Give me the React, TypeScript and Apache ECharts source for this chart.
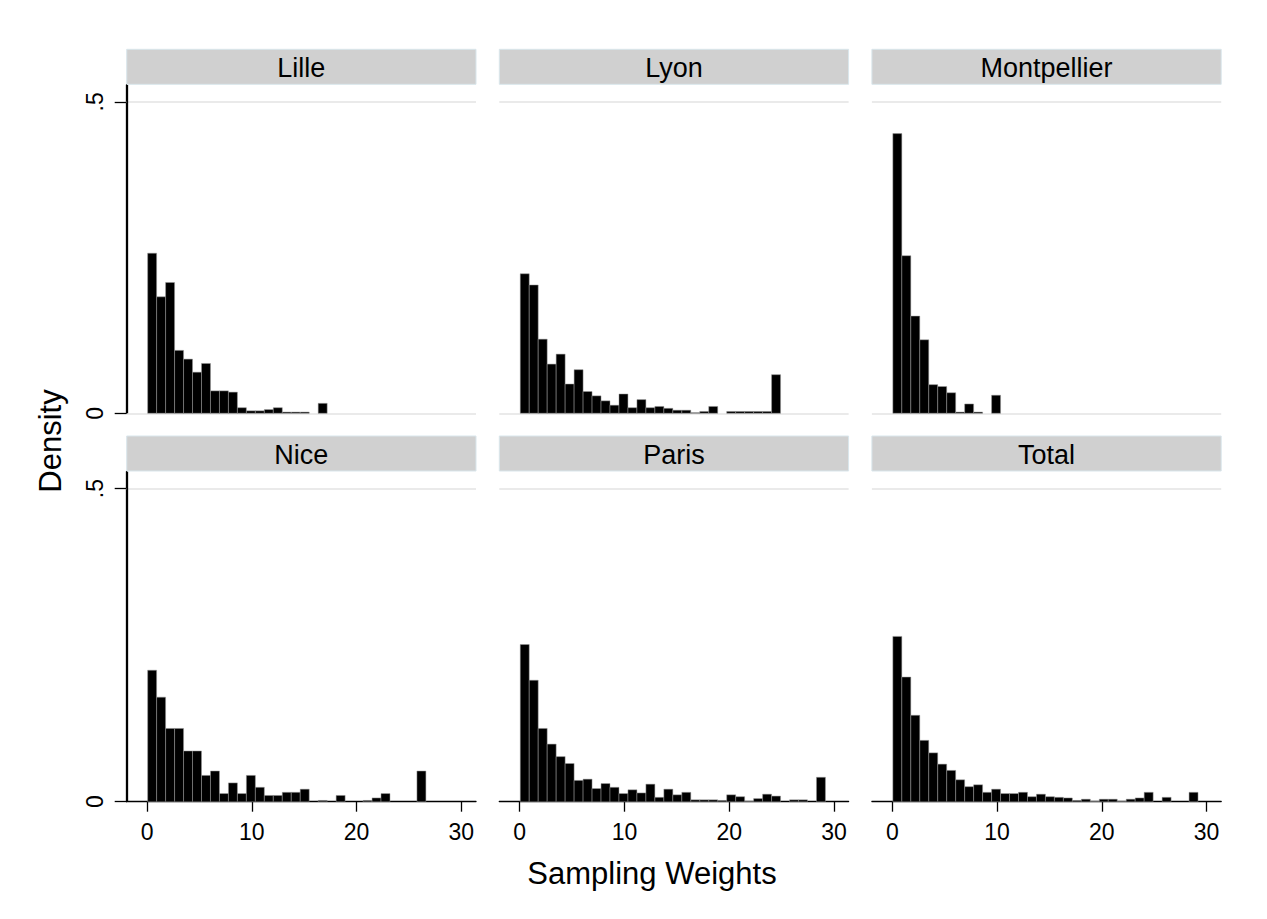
import React, { useEffect, useRef } from "react";
import * as echarts from "echarts";

// ---- data (density per bin) ----
const panels = ["Lille", "Lyon", "Montpellier", "Nice", "Paris", "Total"];
const binStart = 0.05;
const binWidth = 0.857;
const binCount = 34;

const lille = [0.257, 0.187, 0.21, 0.101, 0.087, 0.066, 0.08, 0.036, 0.036, 0.034, 0.009, 0.004, 0.004, 0.006, 0.009, 0.002, 0.002, 0.002, 0, 0.016, 0, 0, 0, 0, 0, 0, 0, 0, 0, 0, 0, 0, 0, 0];
const lyon = [0.224, 0.206, 0.119, 0.079, 0.095, 0.047, 0.07, 0.035, 0.028, 0.02, 0.013, 0.031, 0.009, 0.022, 0.009, 0.011, 0.008, 0.005, 0.005, 0.001, 0.003, 0.011, 0, 0.003, 0.003, 0.003, 0.003, 0.003, 0.062, 0, 0, 0, 0, 0];
const montpellier = [0.449, 0.253, 0.156, 0.118, 0.046, 0.043, 0.033, 0.002, 0.015, 0.002, 0, 0.029, 0, 0, 0, 0, 0, 0, 0, 0, 0, 0, 0, 0, 0, 0, 0, 0, 0, 0, 0, 0, 0, 0];
const nice = [0.21, 0.167, 0.117, 0.117, 0.081, 0.081, 0.042, 0.049, 0.013, 0.03, 0.013, 0.042, 0.023, 0.01, 0.01, 0.015, 0.015, 0.02, 0, 0.002, 0, 0.01, 0, 0, 0.002, 0.006, 0.013, 0, 0, 0, 0.049, 0, 0, 0];
const paris = [0.251, 0.194, 0.117, 0.092, 0.072, 0.061, 0.034, 0.036, 0.021, 0.029, 0.023, 0.013, 0.019, 0.014, 0.028, 0.007, 0.02, 0.011, 0.015, 0.003, 0.003, 0.003, 0.002, 0.011, 0.008, 0.0005, 0.005, 0.012, 0.009, 0, 0.003, 0.003, 0, 0.039];
const total = [0.264, 0.199, 0.138, 0.098, 0.078, 0.06, 0.05, 0.035, 0.024, 0.027, 0.015, 0.02, 0.013, 0.013, 0.015, 0.008, 0.012, 0.008, 0.007, 0.006, 0.002, 0.004, 0.0005, 0.004, 0.004, 0.0005, 0.004, 0.006, 0.015, 0, 0.007, 0, 0, 0.015];
const seriesValues = [lille, lyon, montpellier, nice, paris, total];

const xTicks = [0, 10, 20, 30];
const yTicks = [0, 0.5];
const yTickLabels = ["0", ".5"];
const xTitle = "Sampling Weights";
const yTitle = "Density";

// ---- layout ----
const X_MIN = -1.95;
const X_MAX = 31.4;
const Y_MAX = 0.527;
const colLeft = [126.7, 499.3, 871.9];
const colWidth = 349.3;
const rowTop = [85, 471.7];
const rowHeight = [328.3, 330];
const headerH = 35;
const FONT = '"Liberation Sans", Arial, Helvetica, sans-serif';

export default function App() {
  const ref = useRef<HTMLDivElement>(null);
  useEffect(() => {
    if (!ref.current) return;
    const chart = echarts.init(ref.current, undefined, { renderer: "svg" });

    const grids: any[] = [];
    const xAxes: any[] = [];
    const yAxes: any[] = [];
    const series: any[] = [];
    const graphics: any[] = [];

    panels.forEach((name, i) => {
      const r = Math.floor(i / 3);
      const c = i % 3;
      grids.push({
        left: colLeft[c],
        top: rowTop[r],
        width: colWidth,
        height: rowHeight[r],
        containLabel: false,
        outerBoundsMode: "none",
      });
      const bottomRow = r === 1;
      xAxes.push({
        type: "value",
        gridIndex: i,
        min: X_MIN,
        max: X_MAX,
        splitLine: { show: false },
        axisLine: { show: bottomRow, onZero: false, lineStyle: { color: "#000", width: 1.3 } },
        axisTick: {
          show: bottomRow,
          customValues: xTicks,
          length: 10,
          lineStyle: { color: "#000", width: 1.3 },
        },
        axisLabel: {
          show: bottomRow,
          customValues: xTicks,
          margin: 19,
          fontSize: 23,
          fontFamily: FONT,
          color: "#000",
        },
      });
      const leftCol = c === 0;
      yAxes.push({
        type: "value",
        gridIndex: i,
        min: 0,
        max: Y_MAX,
        position: "left",
        splitLine: { show: false },
        axisLine: { show: leftCol, onZero: false, lineStyle: { color: "#000", width: 1.3 } },
        axisTick: {
          show: leftCol,
          customValues: yTicks,
          length: 12,
          lineStyle: { color: "#000", width: 1.3 },
        },
        axisLabel: {
          show: leftCol,
          customValues: yTicks,
          rotate: 90,
          margin: 20,
          fontSize: 23,
          fontFamily: FONT,
          color: "#000",
          formatter: (v: number) => {
            const k = yTicks.indexOf(v);
            return k >= 0 ? yTickLabels[k] : "";
          },
        },
      });

      const vals = seriesValues[i];
      const data: number[][] = [];
      for (let b = 0; b < binCount; b++) {
        const h = vals[b];
        if (h > 0) data.push([binStart + b * binWidth, binStart + (b + 1) * binWidth, h]);
      }
      const lineData: any[] = [{ yAxis: 0.5 }];
      if (!bottomRow) lineData.push({ yAxis: 0 });
      if (leftCol) {
        lineData.push({ xAxis: X_MIN + 0.03, lineStyle: { color: "#000", width: 1.3, type: "solid" } });
      }
      series.push({
        type: "custom",
        name,
        xAxisIndex: i,
        yAxisIndex: i,
        encode: { x: [0, 1], y: 2 },
        data,
        clip: false,
        renderItem: (params: any, api: any) => {
          const p0 = api.coord([api.value(0), api.value(2)]);
          const p1 = api.coord([api.value(1), 0]);
          return {
            type: "rect",
            shape: { x: p0[0], y: p0[1], width: p1[0] - p0[0], height: p1[1] - p0[1] },
            style: { fill: "#000", stroke: "#9a9a9a", lineWidth: 0.5 },
          };
        },
        markLine: {
          silent: true,
          symbol: "none",
          label: { show: false },
          lineStyle: { color: "#e3e3e3", width: 1.6, type: "solid" },
          data: lineData,
          z: 1,
        },
        z: 3,
      });

      const hx = colLeft[c];
      const hy = rowTop[r] - 0.7 - headerH;
      graphics.push({
        type: "rect",
        shape: { x: hx, y: hy, width: colWidth, height: headerH },
        style: { fill: "#d0d0d0", stroke: "#d9e6ec", lineWidth: 1 },
        silent: true,
      });
      graphics.push({
        type: "text",
        x: hx + colWidth / 2,
        y: hy + headerH / 2 + 1,
        style: {
          text: name,
          align: "center",
          verticalAlign: "middle",
          font: `27px ${FONT}`,
          fill: "#000",
        },
        silent: true,
      });
    });

    graphics.push({
      type: "text",
      x: 652,
      y: 873,
      style: {
        text: xTitle,
        align: "center",
        verticalAlign: "middle",
        font: `31px ${FONT}`,
        fill: "#000",
      },
      silent: true,
    });
    graphics.push({
      type: "text",
      x: 50,
      y: 441,
      rotation: Math.PI / 2,
      style: {
        text: yTitle,
        align: "center",
        verticalAlign: "middle",
        font: `31px ${FONT}`,
        fill: "#000",
      },
      silent: true,
    });

    chart.setOption({
      animation: false,
      backgroundColor: "#fff",
      grid: grids,
      xAxis: xAxes,
      yAxis: yAxes,
      series,
      graphic: graphics,
    });
    return () => chart.dispose();
  }, []);

  return (
    <div
      ref={ref}
      style={{ position: "absolute", left: 0, top: 0, width: 1267, height: 919, background: "#fff" }}
    />
  );
}
